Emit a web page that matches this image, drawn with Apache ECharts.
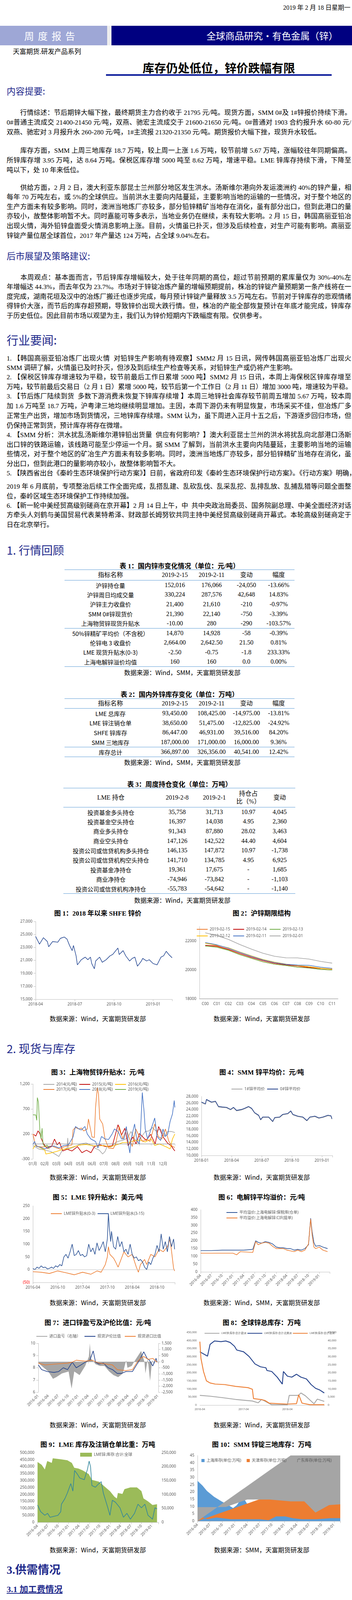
<!DOCTYPE html>
<html><head><meta charset="utf-8">
<script src="https://cdn.jsdelivr.net/npm/echarts@6/dist/echarts.min.js"></script>
<style>
html,body{margin:0;padding:0;background:#fff;}
#page{position:relative;width:900px;height:5693px;overflow:hidden;font-family:"Liberation Serif","Noto Sans CJK SC",serif;color:#000;}
.ab{position:absolute;}
.ln{position:absolute;left:17px;width:881px;height:25px;line-height:25px;font-size:17px;white-space:nowrap;overflow:hidden;}
.j{text-align:justify;text-align-last:justify;white-space:normal;}
.h1{position:absolute;left:17px;font-family:"Noto Sans CJK SC",sans-serif;color:#1f2a8c;}
.ft{position:absolute;font-weight:bold;font-size:17px;white-space:nowrap;transform:translateX(-50%);}
.src{position:absolute;font-size:16px;white-space:nowrap;transform:translateX(-50%);font-family:"Noto Sans CJK SC",sans-serif;}
table{border-collapse:collapse;font-size:16px;}
td{padding:0;text-align:center;white-space:nowrap;}
.ch{position:absolute;}
</style></head>
<body><div id="page"></div>
<script>
// ---------------- DATA ----------------
const t1Rows=[["沪锌持仓量","152,016","176,066","-24,050","-13.66%"],["沪锌周日均成交量","330,224","287,576","42,648","14.83%"],["沪锌主力收盘价","21,400","21,610","-210","-0.97%"],["SMM 0#锌现货价","21,390","22,140","-750","-3.39%"],["上海物贸锌现货升贴水","-10.00","280","-290","-103.57%"],["50%锌精矿平均价（不含税）","14,870","14,928","-58","-0.39%"],["伦锌电 3 收盘价","2,664.00","2,642.50","21.50","0.81%"],["LME 现货升贴水(0-3)","-2.50","-0.75","-1.8","233.33%"],["上海电解锌溢价均值","160","160","0.0","0.00%"]];
const t2Rows=[["LME 总库存","93,450.00","108,425.00","-14,975.00","-13.81%"],["LME 锌注销仓单","38,650.00","51,475.00","-12,825.00","-24.92%"],["SHFE 锌库存","86,447.00","46,931.00","39,516.00","84.20%"],["SMM 三地库存","187,000.00","171,000.00","16,000.00","9.36%"]];
const t2Total=["库存总计","366,897.00","326,356.00","40,541.00","12.42%"];
const t3Rows=[["投资基金多头持仓","35,758","31,713","10.97","4,045"],["投资基金空头持仓","16,397","14,038","4.95","2,360"],["商业多头持仓","91,343","87,880","28.02","3,463"],["商业空头持仓","147,126","142,522","44.40","4,604"],["投资公司或信贷机构多头持仓","146,135","147,872","10.97","-1,738"],["投资公司或信贷机构空头持仓","141,710","134,785","4.95","6,925"],["投资基金净持仓","19,361","17,675","-","1,685"],["商业净持仓","-74,946","-73,842","-","-1,103"],["投资公司或信贷机构净持仓","-55,783","-54,642","-","-1,140"]];

// fig1: months since 2018-04
const f1=[[0,24700],[0.3,23500],[0.6,24500],[0.9,23900],[1.0,23100],[1.3,23900],[1.7,23800],[1.9,24400],[2.2,24600],[2.4,24300],[2.6,23300],[2.8,22500],[2.9,23300],[3.1,21700],[3.2,20300],[3.5,21100],[3.8,21500],[4.0,21100],[4.2,21500],[4.3,20500],[4.5,19700],[4.6,20900],[4.9,21500],[5.1,20700],[5.4,21100],[5.7,21700],[5.9,21900],[6.3,22900],[6.4,21900],[6.7,22500],[6.9,21700],[7.2,20900],[7.4,21300],[7.6,21500],[7.8,20100],[8.1,20900],[8.2,21300],[8.5,20900],[8.7,21100],[9.0,20500],[9.3,20300],[9.6,21500],[9.8,21700],[10.0,22400],[10.2,21900],[10.45,21400]];
// fig2
const f2Cats=["C00","C01","C02","C03","C04","C05","C06","C07","C08","C09","C10","C11"];
const f2_0215=[21658,21613,21388,21073,20803,20560,20398,20308,20200,20146,20038,19993];
const f2_0214=[21703,21658,21433,21145,20875,20641,20461,20353,20281,20173,20101,20056];
const f2_0213=[21658,21568,21361,21055,20803,20560,20398,20308,20191,20128,20038,19993];
const f2_0212=[21847,21712,21532,21235,20974,20722,20542,20407,20299,20227,20119,20047];
const f2_0211=[21892,21739,21505,21217,20947,20695,20515,20389,20335,20317,20191,20110];
const f2_0201=[22567,22387,22117,21757,21442,21154,20947,20839,20830,20749,20587,20470];
// fig3: month position (0=Jan 1), value
const f3_2014=[[0,-30],[0.5,-100],[1,-120],[1.5,-150],[2,-220],[2.2,-250],[2.5,-120],[2.9,-80],[2.95,120],[3,-100],[3.5,-60],[4,0],[4.5,20],[5,-30],[5.3,-90],[5.6,-120],[5.9,-200],[6.1,-150],[6.3,-40],[6.6,-60],[7,30],[7.3,60],[7.6,70],[8,120],[8.3,250],[8.6,100],[8.9,30],[9.2,150],[9.5,250],[9.8,260],[10.1,330],[10.4,260],[10.8,300],[11.1,150],[11.4,250],[11.7,250],[12,230]];
const f3_2015=[[0.06,193],[0.25,158],[0.44,263],[0.59,210],[0.72,105],[0.91,0],[1.2,-88],[1.58,-52],[1.83,98],[2.06,-17],[2.25,35],[2.53,-140],[2.91,-105],[3.3,-140],[3.77,-52],[4.15,-175],[4.53,-123],[4.91,-175],[5.2,-52],[5.68,-17],[6.15,-52],[6.72,-35],[7.2,385],[7.49,175],[7.77,315],[8.06,-35],[8.44,140],[8.72,0],[9.01,210],[9.58,70],[9.96,193],[10.34,0],[10.63,350],[11.01,140],[11.39,17],[11.68,-35],[12,-140]];
const f3_2016=[[0,-100],[0.2,-30],[0.5,-60],[1,-120],[1.1,-200],[1.5,-180],[2,-150],[2.5,-110],[3,-90],[3.5,-50],[4,-20],[4.5,-10],[5,-30],[5.5,-40],[6,-30],[6.5,-60],[7,-20],[7.3,0],[7.6,30],[8,30],[8.5,60],[9,80],[9.5,40],[10,100],[10.3,-30],[10.7,0],[11,-30],[11.3,-60],[11.6,-100],[11.8,100],[12,200]];
const f3_2017=[[0,200],[0.2,0],[0.4,-50],[0.8,-60],[1.2,-50],[1.6,-40],[2,-80],[2.3,-100],[2.6,-60],[2.9,-40],[3.3,-20],[3.4,280],[3.6,330],[3.9,300],[4.1,320],[4.3,260],[4.6,300],[4.7,500],[5,140],[5.2,130],[5.3,730],[5.45,1130],[5.55,1000],[5.65,500],[5.9,400],[6.1,100],[6.4,-80],[6.8,-90],[7,0],[7.3,350],[7.6,100],[7.9,300],[8.1,150],[8.4,-50],[8.7,300],[9.0,150],[9.3,50],[9.6,100],[9.9,50],[10.3,400],[10.6,150],[10.9,100],[11.2,300],[11.5,50],[11.8,-50],[12,-70]];
const f3_2018=[[0,-10],[0.15,50],[0.3,-50],[0.6,-60],[1,-100],[1.4,-50],[1.8,-40],[2.2,-80],[2.6,-30],[3.0,-20],[3.4,140],[3.6,350],[3.9,300],[4.1,280],[4.4,350],[4.6,200],[4.9,100],[5.3,50],[5.5,-80],[5.8,150],[6.1,100],[6.4,90],[6.7,200],[6.9,300],[7.2,250],[7.5,100],[7.7,100],[7.9,350],[8.1,-50],[8.2,-180],[8.3,100],[8.6,400],[8.8,60],[9.0,0],[9.1,250],[9.25,1030],[9.4,650],[9.5,300],[9.7,100],[10.0,300],[10.3,520],[10.5,150],[10.8,70],[11.0,300],[11.2,150],[11.4,200],[11.6,450],[11.8,600],[11.95,870],[12,730]];
const f3_2019=[[0,585],[0.25,580],[0.33,473],[0.38,928],[0.47,840],[0.59,280],[0.69,105],[0.78,315],[0.86,0],[1.0,-52],[1.2,-20],[1.39,-105]];
// fig4: months since 2018-01
const f4_0=[[0,26300],[0.4,25750],[0.5,27100],[1.0,26300],[1.4,26560],[1.7,24950],[2.1,24800],[2.5,24700],[2.9,24050],[3.2,24700],[3.5,23750],[4.0,24050],[4.3,24400],[4.7,24950],[5.0,24400],[5.3,23070],[5.7,22280],[5.9,20950],[6.1,21750],[6.7,21750],[7.1,20400],[7.3,21590],[7.8,21750],[8.1,22550],[8.6,22810],[8.9,23620],[9.1,22550],[9.6,22020],[10.1,21750],[10.5,20680],[10.8,21750],[11.3,22020],[11.7,21480],[12.1,21750],[12.6,22280],[12.9,22120],[13.0,21200]];
const f4_1=[[0,26150],[0.4,25600],[0.5,26950],[1.0,26150],[1.4,26400],[1.7,24800],[2.1,24650],[2.5,24550],[2.9,23900],[3.2,24550],[3.5,23600],[4.0,23900],[4.3,24250],[4.7,24800],[5.0,24250],[5.3,22920],[5.7,22130],[5.9,20800],[6.1,21600],[6.7,21600],[7.1,20250],[7.3,21440],[7.8,21600],[8.1,22400],[8.6,22660],[8.9,23470],[9.1,22400],[9.6,21870],[10.1,21600],[10.5,20530],[10.8,21600],[11.3,21870],[11.7,21330],[12.1,21600],[12.6,22130],[12.9,21970],[13.0,21050]];
// fig5: months since 2016-04
const f5_315=[[0,5],[0.5,0],[1,10],[1.5,5],[2,15],[2.5,8],[3,10],[3.5,3],[4,5],[4.5,10],[5,5],[5.5,15],[6,10],[6.5,20],[7,15],[7.5,50],[8,60],[8.5,45],[9,70],[9.5,100],[10,55],[10.5,60],[11,75],[11.5,55],[12,60],[12.5,50],[13,55],[13.5,100],[14,70],[14.5,85],[15,60],[15.5,105],[16,75],[16.5,90],[17,110],[17.5,70],[18,120],[18.25,220],[18.5,160],[18.8,110],[19,150],[19.5,90],[20,80],[20.5,130],[21,90],[21.5,110],[22,70],[22.5,80],[23,60],[23.5,100],[24,60],[24.5,45],[25,50],[25.5,35],[26,40],[26.5,30],[27,10],[27.5,0],[28,30],[28.5,20],[29,45],[29.5,60],[30,95],[30.5,70],[31,140],[31.5,80],[32,110],[32.5,70],[33,130],[33.5,90],[34,120],[34.25,80]];
const f5_03=[[0,-8],[2,-10],[4,-15],[6,-5],[8,-12],[10,-20],[12,-10],[14,-18],[15.5,-5],[16.5,-10],[17.5,20],[18,50],[18.25,90],[18.6,60],[19.5,45],[20,30],[20.6,10],[21.3,40],[22,70],[23,50],[24,60],[25,10],[25.5,-10],[26,20],[27,40],[27.5,20],[28.5,60],[29.5,50],[30.5,80],[31.5,70],[32.5,90],[33.15,120],[33.6,60],[34,5],[34.25,-5]];
// fig6: months since 2016-04
const f6_bond=[[0,137],[3,137],[6,140],[9,140],[12,140],[14.5,145],[15.3,200],[16,190],[17,185],[18,195],[19,190],[20,180],[21,160],[22,155],[23,155],[24,150],[25,150],[26,140],[27,145],[28,140],[29,150],[30,175],[30.6,345],[31,260],[31.5,190],[32,165],[33,170],[34,160],[35.3,150]];
const f6_cif=[[0,120],[3,120],[6,120],[9,120],[10,110],[11,130],[14.5,125],[15.3,195],[16,175],[17,185],[18,190],[19,185],[20,165],[21,150],[22,150],[23,150],[24,140],[25,135],[26,130],[27,140],[28,130],[29,140],[30,180],[30.6,340],[31,240],[31.5,160],[32,150],[33,160],[34,140],[35.3,130]];
// fig7: months since 2016-01
const f7_pl=[[0,-100],[1.0,-350],[3.0,-800],[4.4,-1400],[5.4,-1270],[7.1,-960],[9.1,-800],[10,-2200],[10.8,-800],[12.4,-1100],[14.1,-350],[15.2,420],[15.5,1500],[15.8,270],[17.2,-200],[18.5,-350],[19.9,-350],[21.3,-800],[22.6,-1100],[24.0,-1270],[25.4,-960],[26.4,120],[26.8,-500],[28.1,-350],[28.8,0],[30.2,580],[30.9,880],[31.9,0],[32.2,-960],[32.9,270],[33.6,-1580],[34.2,120],[34.9,-200]];
const f7_ratio=[[0,8.23],[1,7.85],[2.7,7.69],[4.7,7.62],[6.1,7.69],[7.5,8.0],[8.8,7.85],[10.2,8.46],[11.4,8.0],[12.8,8.23],[14.1,8.46],[15.5,8.62],[16.5,9.38],[17.2,8.46],[18.2,8.31],[19.6,8.38],[21,8.0],[22.3,7.85],[23.7,7.54],[25,7.54],[26.3,7.69],[28.3,7.69],[29.7,8.31],[30.7,8.77],[31.7,9.31],[32.7,8.77],[33.4,8.62],[34.4,8.15],[35.4,8.77],[35.7,8.46]];
const f7_imp=[[0,8.38],[2.0,8.23],[5.4,8.31],[8.8,8.38],[10.2,8.46],[11.4,8.62],[14.1,8.54],[16.2,8.62],[18.2,8.38],[20.3,8.31],[22.3,8.23],[23.7,7.85],[26.3,7.77],[28.3,7.85],[29.7,8.46],[30.7,8.77],[31.7,8.92],[33.0,8.69],[34.4,8.77],[35.7,8.46]];
// fig8: months since 2016-04
const f8_na=[[0,330000],[2.1,303000],[2.8,376000],[4,397000],[5.8,393000],[7.1,397000],[8.3,388000],[9.5,364000],[10.1,341000],[12,330000],[13.5,301000],[15.1,255000],[16.6,237000],[18.1,231000],[18.4,214000],[19.7,208000],[21.2,173000],[22.6,130000],[22.9,208000],[24,179000],[25.2,173000],[26.5,191000],[27.7,173000],[29.2,162000],[30.5,127000],[31.7,104000],[32.9,93000],[34.1,75000]];
const f8_as=[[0,393000],[0.3,289000],[1,208000],[1.8,150000],[2.8,137000],[4.2,130000],[6.8,127000],[9.8,116000],[13.2,108000],[14.4,98000],[14.7,40000],[16.6,35000],[17.8,29000],[19,12000],[24,6000],[26.5,9000],[27.1,64000],[28,12000],[30.2,2000],[34.1,2000]];
const f8_eu=[[0,60000],[2.8,55000],[6.2,46000],[9.8,35000],[14.4,25000],[16,14000],[16.9,35000],[17.8,25000],[19.7,2000],[24,2000],[24.5,60000],[27,60000],[27.7,75000],[28.9,58000],[31.3,8000],[32.2,37000],[34.1,23000]];
// fig9: months since 2016-04
const f9_stock=[[0,433000],[1.2,413000],[2.1,380000],[2.8,440000],[4.1,427000],[4.4,460000],[6.7,453000],[8.6,446000],[9.9,427000],[10.6,392000],[11.8,386000],[13.1,372000],[14.8,346000],[15.7,305000],[17.7,292000],[19,265000],[20.9,224000],[22.2,184000],[22.9,171000],[23.2,211000],[24.5,204000],[25.1,238000],[26.8,251000],[28.7,251000],[30,224000],[30.6,171000],[31.9,150000],[33.2,124000],[34.5,130000]];
const f9_cw=[[0,62000],[0.9,38000],[2.1,25000],[2.9,32000],[3.6,18000],[5.9,25000],[6.7,38000],[6.9,65000],[7.9,85000],[8.6,105000],[9.6,139000],[10.2,112000],[10.7,186000],[11.5,173000],[12.2,159000],[13.5,153000],[14.4,190000],[14.9,220000],[15.3,200000],[15.7,132000],[16.7,126000],[17.7,139000],[18.4,146000],[19,105000],[20.3,52000],[20.9,25000],[21.6,79000],[22.5,72000],[23.8,52000],[24.8,18000],[25.8,32000],[26.8,11000],[28,32000],[29,65000],[30,52000],[31,65000],[31.9,25000],[33.2,11000],[33.9,52000],[34.5,48000]];
// fig10: months since 2016-04
const f10_x=[0,1.2,2.3,4.0,5.8,7.5,8.6,9.5,10.6,11.5,12.6,14.4,16.1,17.8,19.5,21.3,22.4,23.3,24.1,25.3,26.4,27.3,28.7,30.4,31.6,33.0,33.9,34.5];
const f10_sh=[27.6,24.4,20.6,16.7,13.5,10.9,9.0,10.9,15.4,14.1,9.0,6.4,6.4,5.1,6.4,7.7,12.9,16.1,12.9,7.7,12.9,7.7,6.4,7.1,4.5,3.9,6.4,7.1];
const f10_tj=[3.9,1.3,2.5,1.3,1.3,1.3,0.6,3.2,3.2,2.0,1.3,1.3,2.0,2.0,2.6,2.6,2.5,3.2,2.5,3.2,0.6,2.6,3.2,5.8,5.1,3.2,2.6,7.0];
const f10_gd=[9.6,9.6,9.7,14.8,14.8,13.5,13.5,5.8,11.0,11.5,5.1,3.9,3.8,3.2,2.6,3.2,6.5,7.2,3.9,2.6,0.0,1.9,2.6,2.5,2.0,2.5,4.5,4.5];
// fig11: months since 2016-04
const f11_dom=[[0,177],[2,174],[2.9,170],[4,164],[5.8,158],[6.7,152],[7.8,144],[8.8,136],[9.9,134],[10.9,130],[11.9,129],[13.4,129],[14.6,133],[15.5,136],[16.6,135],[17.6,132],[18.5,129],[19.5,128],[20.4,117],[21.3,117],[24,117],[27.1,117],[28,126],[28.9,132],[29.9,142],[31,161],[31.9,169],[33,181]];
const f11_imp=[[0,4190],[2,3900],[2.9,3470],[4,3120],[4.9,3140],[5.8,3080],[6.7,2870],[7.8,2440],[8.8,1830],[9.9,1270],[10.9,1030],[11.9,1030],[12.8,1190],[13.7,1360],[14.6,1440],[15.5,1720],[16.4,1640],[17.6,1270],[18.5,970],[19.5,660],[20.4,330],[21.3,330],[22.2,430],[23.1,430],[24,600],[25.2,600],[26.1,760],[27.1,970],[28,1380],[28.9,1890],[29.9,3120],[31,3840],[31.9,4560],[33,5420]];
// fig12: monthly 2016/04 - 2018/11
const f12_cats=["2016/04","2016/05","2016/06","2016/07","2016/08","2016/09","2016/10","2016/11","2016/12","2017/01","2017/02","2017/03","2017/04","2017/05","2017/06","2017/07","2017/08","2017/09","2017/10","2017/11","2017/12","2018/01","2018/02","2018/03","2018/04","2018/05","2018/06","2018/07","2018/08","2018/09","2018/10","2018/11"];
const f12_mine=[1056,1106,1125,1088,1153,1147,1209,1110,1143,1097,1045,1069,1065,1060,1143,1088,1084,1134,1218,1236,1153,1010,1010,995,1051,1069,1060,1051,1078,1116,1168,1177];
const f12_ref=[1106,1138,1147,1119,1125,1184,1194,1190,1182,1162,1088,1129,1097,1116,1143,1088,1119,1162,1223,1229,1171,1060,1110,1103,1097,1093,1054,1073,1091,1125,1143,1158];
const f12_con=[1138,1236,1209,1138,1143,1190,1182,1207,1119,1143,1047,1209,1212,1147,1194,1134,1157,1209,1264,1292,1190,1153,1032,1069,1162,1171,1116,1138,1112,1119,1182,1255];
// fig13: monthly 2016-03 - 2018-12
const f13_cats=["2016-03","2016-04","2016-05","2016-06","2016-07","2016-08","2016-09","2016-10","2016-11","2016-12","2017-01","2017-02","2017-03","2017-04","2017-05","2017-06","2017-07","2017-08","2017-09","2017-10","2017-11","2017-12","2018-01","2018-02","2018-03","2018-04","2018-05","2018-06","2018-07","2018-08","2018-09","2018-10","2018-11","2018-12"];
const f13_total=[69,74,74,75,75,74,74,78,79,78,70,69,68,67,75,74,73,76,82,80,79,80,74,72,72,69,70,66,68,73,75,74,75,77];
const f13_zno=[35,55,63,63,62,61,60,55,58,59,60,57,55,57,55,56,60,59,57,57,54,53,50,41,54,58,55,54,51,51,55,54,54,null];
const f13_die=[25,63,68,64,63,55,55,57,59,63,64,43,44,59,61,59,57,52,44,55,54,50,41,16,55,55,52,50,50,52,49,51,50,47];
const f13_galv=[43,92,96,89,85,84,84,82,84,82,70,52,68,80,66,77,86,84,85,84,82,83,68,38,34,66,86,86,82,79,83,84,82,82];
// fig14: months since 2016-04
const f14_lme=[[0,1820],[1.2,1890],[2.5,2090],[3.7,2300],[4.95,2300],[6.2,2440],[7.4,2710],[8.1,2810],[8.7,2710],[9.9,2910],[11.2,2810],[12.4,2600],[13.7,2600],[15,2710],[16.2,3120],[17.4,3220],[18.7,3120],[19.9,3320],[21.2,3530],[22.1,3530],[23.1,3220],[24.3,3120],[25.5,3120],[26.8,2600],[27.7,2560],[28.7,2500],[29.9,2650],[31.2,2600],[32.4,2560],[33,2650],[34,2710]];
const f14_dxy=[[0,94.4],[1.2,94.4],[2.5,95],[3.7,95.3],[4.95,95.3],[6.2,98.2],[6.8,99.1],[7.4,102.4],[8.1,103],[8.7,101.4],[9.9,101.4],[11.2,100.4],[12.4,99.5],[13.4,97.6],[14.3,96.9],[15.6,94.4],[16.8,92.4],[18.1,92.7],[19.3,93.1],[20.5,91.8],[21.5,89.2],[22.4,89.9],[23.7,89.9],[24.6,92.4],[25.5,94.7],[26.8,95],[28,96],[29.3,96],[30.5,96.5],[31.8,96.9],[33,96],[34,96.5]];
// fig15: monthly 2016/03 - 2018/12
const f15_cats=["2016/03","2016/04","2016/05","2016/06","2016/07","2016/08","2016/09","2016/10","2016/11","2016/12","2017/01","2017/02","2017/03","2017/04","2017/05","2017/06","2017/07","2017/08","2017/09","2017/10","2017/11","2017/12","2018/01","2018/02","2018/03","2018/04","2018/05","2018/06","2018/07","2018/08","2018/09","2018/10","2018/11","2018/12"];
const f15_us=[52.2,51.5,51.1,53,52.4,49.4,51.7,52.2,53,54.1,56.2,57.5,57.1,54.8,54.8,57.6,56.4,59,60.7,58.7,58.2,59.2,58.9,60.7,59.3,57.3,58.7,60.1,58.2,61.3,59.8,57.5,59.2,54.3];
const f15_cn=[50.3,50.3,50.2,50.2,50.1,50.1,50.3,50.8,51.1,51.4,51.5,51.3,51.4,51.3,51,51.1,51.4,51.7,52.3,51.7,51.7,51.4,51.3,51.1,50.3,51.2,51.9,51.4,51.1,51.1,50.8,50.1,50,49.4];
const f15_in=[52.4,51.1,51,51.7,51.9,52.6,52.2,54.3,52.2,49.6,50.5,50.9,52.4,52.4,51.7,51.1,47.9,51.1,51.1,50.3,52.2,54.5,52.6,52.2,51.1,51.4,51.3,53,52.6,52,52.6,53.6,54.1,53.3];

// ---------------- PAGE TEXT ----------------
const P=document.getElementById('page');
function el(html){P.insertAdjacentHTML('beforeend',html);}
function lines(ys,texts,extra){texts.forEach((t,i)=>{const last=i===texts.length-1;el(`<div class="ln${last?'':' j'}" style="top:${ys[i]-12.5}px;${extra||''}">${t}</div>`);});}
function seq(y0,n,step){const a=[];for(let i=0;i<n;i++)a.push(y0+i*step);return a;}

el(`<div class="ab" style="right:4px;top:6px;font-size:16px;">2019 年 2 月 18 日星期一</div>`);
el(`<div class="ab" style="left:0;top:66px;width:274px;height:50px;background:#9ea7d6;"></div>`);
el(`<div class="ab" style="left:274px;top:66px;width:11px;height:50px;background:#eeeeee;"></div>`);
el(`<div class="ab" style="left:285px;top:66px;width:615px;height:50px;background:#000080;"></div>`);
el(`<div class="ab" style="left:0;top:66px;width:264px;height:50px;line-height:50px;text-align:center;color:#fff;font-size:25px;letter-spacing:10px;font-family:'Noto Sans CJK SC';">周度报告</div>`);
el(`<div class="ab" style="left:528px;top:66px;height:50px;line-height:50px;color:#fff;font-size:24px;font-family:'Noto Sans CJK SC';white-space:nowrap;">全球商品研究·有色金属（锌）</div>`);
el(`<div class="ab" style="left:33px;top:118px;font-size:17px;">天富期货.研发产品系列</div>`);
el(`<div class="ab" style="left:271px;top:150px;width:577px;text-align:center;font-size:30px;font-weight:bold;font-family:'Noto Sans CJK SC';">库存仍处低位，锌价跌幅有限</div>`);
el(`<div class="ab" style="left:271px;top:190px;width:577px;height:4px;background:#0a1a9a;"></div>`);
el(`<div class="h1" style="top:215px;font-size:23px;">内容提要:</div>`);
lines([288,313,338],["　　行情综述：节后期锌大幅下挫，最终期货主力合约收于 21795 元/吨。现货方面，SMM 0#及 1#锌报价持续下滑。上海","0#普通主流成交 21400-21450 元/吨，双燕、驰宏主流成交于 21600-21650 元/吨。0#普通对 1903 合约报升水 60-80 元/吨；","双燕、驰宏对 3 月报升水 260-280 元/吨，1#主流报 21320-21350 元/吨。期货报价大幅下挫，现货升水较低。"]);
lines([385,410,435],["　　库存方面，SMM 上周三地库存 18.7 万吨，较上周一上涨 1.6 万吨，较节前增 5.67 万吨，涨幅较往年同期偏高。上期","所锌库存增 3.95 万吨，达 8.64 万吨。保税区库存增 5000 吨至 8.62 万吨，增速平稳。LME 锌库存持续下滑，下降至 10 万","吨以下，处 10 年来低位。"]);
lines(seq(480,6,24.6),["　　供给方面，2 月 2 日，澳大利亚东部昆士兰州部分地区发生洪水。汤斯维尔港向外发运澳洲约 40%的锌产量，相当于","每年 70 万吨左右，或 5%的全球供应。当前洪水主要向内陆蔓延，主要影响当地的运输的一些情况，对于整个地区的矿冶","生产方面未有较多影响。同时，澳洲当地炼厂亦较多，部分铅锌精矿当地存在消化，虽有部分出口，但到此港口的量影响","亦较小，故整体影响暂不大。同时嘉能可等多表示，当地业务仍在继续，未有较大影响。2 月 15 日，韩国高丽亚铅冶炼厂","出现火情，海外铅锌盘面受火情消息影响上涨。目前，火情虽已扑灭，但涉及后续检查，对生产可能有影响。高丽亚铅的","锌锭产量位居全球首位，2017 年产量达 124 万吨，占全球 9.04%左右。"]);
el(`<div class="h1" style="top:637px;font-size:23px;">后市展望及策略建议:</div>`);
lines(seq(710,5,24.6),["　　本周观点：基本面而言，节后锌库存增幅较大，处于往年同期的高位，超过节前预期的累库量仅为 30%-40%左右，今","年增幅达 44.3%，而去年仅为 23.7%。市场对于锌锭冶炼产量的增幅预期提前，株冶的锌锭产量预期第一条产线将在一季","度完成，湖南花垣及汉中的冶炼厂搬迁也逐步完成，每月预计锌锭产量释放 3.5 万吨左右。节前对于锌库存的悲观情绪使","得锌价大涨，而节后的库存超预期，导致锌价出现大跌行情。但，株冶的产能全部恢复预计在年底才能完成，锌库存仍处","于历史低位。因此目前市场以观望为主，我们认为锌价短期内下跌幅度有限。仅供参考。"]);
el(`<div class="h1" style="top:847px;font-size:30px;">行业要闻:</div>`);
lines([917,941],["1. 【韩国高丽亚铅冶炼厂出现火情&nbsp; 对铅锌生产影响有待观察】SMM2 月 15 日讯，网传韩国高丽亚铅冶炼厂出现火情，经","SMM 调研了解，火情虽已及时扑灭，但涉及到后续生产检查等关系，对铅锌生产或仍将产生影响。"]);
lines([965,990],["2. 【保税区锌库存增速较为平稳，较节前最后工作日累增 5000 吨】SMM2 月 15 日讯，本周上海保税区锌库存增至 8.62","万吨，较节前最后交易日（2 月 1 日）累增 5000 吨，较节后第一个工作日（2 月 11 日）增加 3000 吨，增速较为平稳。"]);
lines([1014,1039,1064,1089],["3. 【节后炼厂陆续到货&nbsp; 多数下游消费未恢复下锌库存续增 】本周三地锌社会库存较节前周五增加 5.67 万吨，较本周一增","加 1.6 万吨至 18.7 万吨，沪粤津三地均继续明显增加。主因，本周下游仍未有明显恢复，市场采买不佳，但冶炼厂多保持","正常生产出货，增加市场到货情况，三地锌库存续增。SMM 认为，虽下周进入正月十五之后，下游逐步回归市场，但炼厂","仍保持正常到货，预计库存将存在微增。"]);
lines([1113,1138,1162,1187],["4. 【SMM 分析：洪水扰乱汤斯维尔港锌铅出货量&nbsp; 供应有何影响？】澳大利亚昆士兰州的洪水将扰乱向北部港口汤斯维尔","出口锌的铁路运输，该线路可能至少停运一个月。据 SMM 了解到，当前洪水主要向内陆蔓延，主要影响当地的运输的一","些情况，对于整个地区的矿冶生产方面未有较多影响。同时，澳洲当地炼厂亦较多，部分铅锌精矿当地存在消化，虽有部","分出口，但到此港口的量影响亦较小，故整体影响暂不大。"]);
lines([1211],["5. 【陕西省出台《秦岭生态环境保护行动方案》】日前，省政府印发《秦岭生态环境保护行动方案》。《行动方案》明确，"]);
lines([1245,1270],["2019 年 6 月底前，专项整治后续工作全面完成，乱搭乱建、乱砍乱伐、乱采乱挖、乱排乱放、乱捕乱猎等问题全面整治到","位，秦岭区域生态环境保护工作持续加强。"]);
lines([1294,1318,1343],["6. 【新一轮中美经贸高级别磋商在京开幕】2 月 14 日上午，中&nbsp; 共中央政治局委员、国务院副总理、中美全面经济对话中","方牵头人刘鹤与美国贸易代表莱特希泽、财政部长姆努钦共同主持中美经贸高级别磋商开幕式。本轮高级别磋商定于 14-15","日在北京举行。"]);
el(`<div class="h1" style="top:1386px;font-size:29px;">1. 行情回顾</div>`);

// tables
function table(left,width,top,cols,head,headH,rows,rowH,opts){
  const bl='1.5px solid #5b9bd5';
  let h=`<table class="ab" style="left:${left}px;top:${top}px;width:${width}px;table-layout:fixed;">`;
  h+='<colgroup>'+cols.map(c=>`<col style="width:${c}px">`).join('')+'</colgroup>';
  h+=`<tr style="height:${headH}px;border-top:${bl};border-bottom:${bl};">`+head.map(c=>`<td style="line-height:20px;">${c}</td>`).join('')+'</tr>';
  rows.forEach((r,i)=>{const sep=(opts.sepAfter===i)?`border-bottom:${bl};`:'';const last=i===rows.length-1?`border-bottom:${bl};`:'';
    h+=`<tr style="height:${rowH}px;${sep}${last}">`+r.map((c,j)=>`<td${j===0?' style="font-family:\'Noto Sans CJK SC\';font-size:15px"':''}>${c}</td>`).join('')+'</tr>';});
  h+='</table>';el(h);
}
el(`<div class="ft" style="left:459px;top:1435px;">表 1：国内锌市变化情况（单位：元/吨）</div>`);
table(165,588,1458,[235,94,94,84,81],["指标名称","2019-2-15","2019-2-11","变动","幅度"],27,t1Rows,24.6,{sepAfter:4});
el(`<div class="src" style="left:466px;top:1709px;">数据来源：Wind，SMM，天富期货研发部</div>`);
el(`<div class="ft" style="left:459px;top:1764px;">表 2：国内外锌库存变化（单位：万吨）</div>`);
table(165,588,1788,[235,94,94,84,81],["指标名称","2019-2-15","2019-2-11","变动","幅度"],25,t2Rows.concat([t2Total]),24.8,{sepAfter:3});
el(`<div class="src" style="left:466px;top:1939px;">数据来源：Wind，SMM，天富期货研发部</div>`);
el(`<div class="ft" style="left:459px;top:1994px;">表 3：周度持仓变化（单位：万吨）</div>`);
table(162,593,2017,[243,96,94,80,80],["LME 持仓","2019-2-8","2019-2-1","持仓占<br>比（%）","变动"],49,t3Rows,24.6,{});
el(`<div class="src" style="left:466px;top:2292px;">数据来源：Wind，天富期货研发部</div>`);

// figure titles & sources
const ftitles=[[250,2335,"图 1：2018 年以来 SHFE 锌价"],[669,2335,"图 2：沪锌期限结构"],[250,2742,"图 3：上海物贸锌升贴水：元/吨"],[669,2742,"图 4：SMM 锌平均价：元/吨"],[250,3062,"图 5：LME 锌升贴水：美元/吨"],[669,3062,"图 6：电解锌平均溢价：元/吨"],[250,3383,"图 7：进口锌盈亏及沪伦比值：元/吨"],[669,3383,"图 8：全球锌总库存：万吨"],[250,3695,"图 9：LME 库存及注销仓单比重：万吨"],[669,3695,"图 10：SMM 锌锭三地库存：万吨"],[459,4102,"图 11：国内矿及进口矿加工费：元/吨、美元/吨"],[250,4472,"图 12：锌矿及精炼锌产量及消费量：千吨"],[669,4472,"图 13：下游开工率"],[250,4825,"图 14：锌价及美元指数"],[669,4825,"图 15：PMI 指数"]];
ftitles.forEach(t=>el(`<div class="ft" style="left:${t[0]}px;top:${t[1]-11}px;">${t[2]}</div>`));
const W="数据来源：Wind，天富期货研发部",WS="数据来源：Wind，SMM，天富期货研发部",S="数据来源：SMM，天富期货研发部";
const srcs=[[250,2606,W],[669,2606,W],[250,3012,W],[669,3012,W],[250,3333,W],[669,3333,WS],[250,3646,W],[669,3646,W],[250,3966,W],[669,3966,S],[459,4372,WS],[250,4739,S],[669,4739,S],[250,5097,W],[669,5097,S]];
srcs.forEach(t=>el(`<div class="src" style="left:${t[0]}px;top:${t[1]-11}px;">${t[2]}</div>`));
el(`<div class="h1" style="top:2662px;font-size:29px;">2. 现货与库存</div>`);
el(`<div class="h1" style="top:3995px;font-size:29px;font-weight:bold;font-family:'Liberation Serif','Noto Sans CJK SC';">3.供需情况</div>`);
el(`<div class="h1" style="top:4050px;font-size:22px;font-weight:bold;text-decoration:underline;font-family:'Liberation Serif','Noto Sans CJK SC';">3.1 加工费情况</div>`);
el(`<div class="h1" style="top:4421px;font-size:22px;font-weight:bold;text-decoration:underline;font-family:'Liberation Serif','Noto Sans CJK SC';">3.2 产量及开工率情况</div>`);
el(`<div class="h1" style="top:4770px;font-size:27px;font-weight:bold;font-family:'Liberation Serif','Noto Sans CJK SC';">4.宏观情况</div>`);
el(`<div class="h1" style="top:5128px;font-size:27px;">5. 后市展望</div>`);
const sans="font-family:'Noto Sans CJK SC',sans-serif;font-size:16.5px;";
lines(seq(5196,5,24.8),["本周观点：基本面而言，节后锌库存增幅较大，处于往年同期的高位，超过节前预期的累库量仅为 30%-40%左右，今年增","幅达 44.3%，而去年仅为 23.7%。市场对于锌锭冶炼产量的增幅预期提前，株冶的锌锭产量预期第一条产线将在一季度完","成，湖南花垣及汉中的冶炼厂搬迁也逐步完成，每月预计锌锭产量释放 3.5 万吨左右。节前对于锌库存的悲观情绪使得锌","价大涨，而节后的库存超预期，导致锌价出现大跌行情。但，株冶的产能全部恢复预计在年底才能完成，锌库存仍处于历","史低位。因此目前市场以观望为主，我们认为锌价短期内下跌幅度有限。仅供参考。"],sans);
el(`<div class="ab" style="left:17px;top:5330px;font-size:22px;color:#8e9bd8;font-family:'Noto Sans CJK SC';">免责声明</div>`);
const dy=seq(5381,13,24.65);
lines(dy.slice(0,2),["本报告的信息均来源于公开资料，我公司对这些信息的准确性和完整性不作任何保证，也不保证所包含的信息和建议不会","发生任何变更。文中的观点、结论和建议仅供参考。天富期货可发出其它与本报告所载资料不一致及有不同结论的报告。"],sans);
lines(dy.slice(2,4),["本报告及该等报告反映编写分析员的不同设想、见解及分析方法。报告所载资料、意见及推测仅反映分析员于发出此报告","日期当日的独立判断。"],sans);
lines(dy.slice(4,7),["客户不应视本报告为作出投资决策的惟一因素。本报告中所指的投资及服务可能不适合个别客户，不构成客户私人咨询建","议。本公司未确保本报告充分考虑到个别客户特殊的投资目标、财务状况或需要。本公司建议客户应考虑本报告的任何意","见或建议是否符合其特定状况，以及（若有必要）咨询独立投资顾问。"],sans);
lines(dy.slice(7,9),["在任何情况下，本报告中的信息或所表述的意见并不构成对任何人的投资建议。在任何情况下，本公司不对任何人因使用","本报告中的任何内容所引致的损失负任何责任。"],sans);
lines(dy.slice(9,11),["本报告的观点可能与资管团队的观点不同或对立，对于基于本报告全面或部分做出的交易、结果，不论盈利或亏损，天富","期货研究发展部不承担责任。"],sans);
lines(dy.slice(11,13),["本报告版权仅为天富期货有限公司所有，未经书面许可，任何机构和个人不得以任何形式翻版、复制和发布。如引用、刊","发，需注明出处天富期货研究发展部，且不得对本报告进行有悖原意的引用、删节和修改。"],sans);

// ---------------- CHARTS ----------------
const C={blue:'#2f5597',lblue:'#4472c4',orange:'#ed7d31',gray:'#a5a5a5',yellow:'#ffc000',green:'#70ad47',red:'#c00000'};
const FF="'Noto Sans','Noto Sans CJK SC',sans-serif";
function chart(l,t,w,h,opt){const d=document.createElement('div');d.className='ch';d.style.cssText=`left:${l}px;top:${t}px;width:${w}px;height:${h}px;`;P.appendChild(d);const c=echarts.init(d,null,{renderer:'canvas'});opt.animation=false;opt.textStyle={fontFamily:FF};c.setOption(opt);}
function ax(o){const b={axisLine:{show:true,lineStyle:{color:'#bfbfbf'}},axisTick:{show:true,lineStyle:{color:'#bfbfbf'}},axisLabel:{color:'#595959',fontSize:10,fontFamily:FF},splitLine:{show:false}};
  for(const k in o){if(b[k]&&typeof o[k]==='object'&&!Array.isArray(o[k]))b[k]=Object.assign({},b[k],o[k]);else b[k]=o[k];}return b;}
function ym(by,bm,sep){return v=>{if(Math.abs(v-Math.round(v))>1e-6)return '';const t=by*12+bm-1+Math.round(v);const y=Math.floor(t/12),m=t%12+1;return y+sep+(m<10?'0':'')+m;};}
function ln(name,data,color,extra){return Object.assign({name,type:'line',data,symbol:'none',lineStyle:{width:1.6,color},itemStyle:{color}},extra||{});}
const lg=(o)=>Object.assign({itemWidth:28,itemHeight:2,icon:'rect',textStyle:{fontSize:10,color:'#595959'}},o);

// fig1
chart(40,2345,420,240,{grid:{left:51,right:20,top:14,bottom:27},
 xAxis:ax({type:'value',min:0,max:10.45,interval:3,axisLabel:{formatter:ym(2018,4,'-')}}),
 yAxis:ax({type:'value',min:15000,max:27000,interval:2000}),
 series:[ln('SHFE',f1,'#2e4f97')]});
// fig2
chart(470,2345,420,240,{grid:{left:40,right:26,top:27,bottom:28},
 legend:[lg({top:24,left:28,data:['2019-02-15','2019-02-14','2019-02-13'],itemGap:8,textStyle:{fontSize:10,color:'#595959',width:80}}),lg({top:41,left:28,data:['2019-02-12','2019-02-11','2019-02-01'],itemGap:8,textStyle:{fontSize:10,color:'#595959',width:80}})],
 xAxis:ax({type:'category',data:f2Cats,axisLine:{lineStyle:{color:'#bfbfbf',width:2}},axisTick:{show:false}}),
 yAxis:ax({type:'value',min:18000,max:23000,interval:1000,axisTick:{show:false},axisLabel:{formatter:v=>v%2000===0?v:''}}),
 series:[ln('2019-02-15',f2_0215,C.orange),ln('2019-02-14',f2_0214,C.red),ln('2019-02-13',f2_0213,C.green),ln('2019-02-12',f2_0212,C.yellow),ln('2019-02-11',f2_0211,C.lblue),ln('2019-02-01',f2_0201,C.gray)]});
// fig3
chart(30,2760,430,230,{grid:{left:54,right:13,top:15,bottom:23},
 legend:[lg({top:6,left:76,data:['2014(元/吨)','2015(元/吨)','2016(元/吨)'],itemGap:6,textStyle:{fontSize:10,color:'#595959',width:72}}),lg({top:19,left:76,data:['2017(元/吨)','2018(元/吨)','2019(元/吨)'],itemGap:6,textStyle:{fontSize:10,color:'#595959',width:72}})],
 xAxis:ax({type:'value',min:0,max:12,interval:1,axisLabel:{formatter:v=>v<12?((v+1<10?'0':'')+(v+1)+'月'):''}}),
 yAxis:ax({type:'value',min:-300,max:1200,interval:500}),
 series:[ln('2014(元/吨)',f3_2014,C.gray,{markLine:{silent:true,symbol:'none',label:{show:false},lineStyle:{color:'#7f7f7f',type:'solid',width:1},data:[{yAxis:0}]}}),ln('2015(元/吨)',f3_2015,C.red),ln('2016(元/吨)',f3_2016,C.yellow),ln('2017(元/吨)',f3_2017,C.orange),ln('2018(元/吨)',f3_2018,C.lblue),ln('2019(元/吨)',f3_2019,C.green)]});
// fig4
chart(470,2770,420,215,{grid:{left:45,right:40,top:37,bottom:27},
 legend:lg({top:8,left:'center',itemGap:6,data:['1#锌平均价','0#锌平均价']}),
 xAxis:ax({type:'value',min:0,max:13.05,interval:3,axisLabel:{formatter:ym(2018,1,'-')}}),
 yAxis:ax({type:'value',min:10000,max:28000,interval:2000,axisTick:{show:false}}),
 series:[ln('1#锌平均价',f4_1,C.gray),ln('0#锌平均价',f4_0,'#203f8a')]});
// fig5
chart(30,3075,430,235,{grid:{left:54,right:13,top:12,bottom:27},
 legend:lg({top:22,left:95,itemGap:6,data:['LME锌升贴水(0-3)','LME锌升贴水(3-15)']}),
 xAxis:ax({type:'value',min:0,max:34.3,interval:6,axisLine:{onZero:false},axisLabel:{formatter:ym(2016,4,'-')}}),
 yAxis:ax({type:'value',min:-50,max:250,interval:50,axisTick:{show:false},axisLabel:{formatter:v=>v<0?'('+(-v)+')':v,color:v=>v<0?'#ff0000':'#595959'}}),
 series:[ln('LME锌升贴水(0-3)',f5_03,C.orange),ln('LME锌升贴水(3-15)',f5_315,'#2f5597',{markLine:{silent:true,symbol:'none',label:{show:false},lineStyle:{color:'#bfbfbf',type:'solid',width:1},data:[{yAxis:0}]}})]});
// fig6
chart(470,3085,420,225,{grid:{left:43,right:47,top:12,bottom:54},
 legend:lg({top:9,left:104,orient:'vertical',itemGap:4,data:['平均溢价:上海电解锌:保税库(仓单)','平均溢价:上海电解锌:CIF(提单)']}),
 xAxis:ax({type:'value',min:0,max:35.9,interval:3,axisLabel:{rotate:45,formatter:ym(2016,4,'-')}}),
 yAxis:ax({type:'value',min:0,max:400,interval:50,axisTick:{show:false}}),
 series:[ln('平均溢价:上海电解锌:保税库(仓单)',f6_bond,'#2f5597'),ln('平均溢价:上海电解锌:CIF(提单)',f6_cif,C.orange)]});
// fig7
chart(40,3405,420,210,{grid:{left:58,right:55,top:34,bottom:51},
 legend:lg({top:6,left:48,itemGap:10,data:['进口盈亏（右轴）','现货沪伦比值','现货进口比值']}),
 xAxis:ax({type:'value',min:0,max:36.1,interval:3,axisLabel:{rotate:45,formatter:ym(2016,1,'-')}}),
 yAxis:[ax({type:'value',min:6,max:10,interval:1}),ax({type:'value',min:-2500,max:1500,interval:500,position:'right'})],
 series:[{name:'进口盈亏（右轴）',type:'line',yAxisIndex:1,data:f7_pl,symbol:'none',lineStyle:{width:0},itemStyle:{color:'#a6a6a6'},areaStyle:{color:'#a6a6a6',opacity:1}},
  ln('现货沪伦比值',f7_ratio,'#203f8a'),ln('现货进口比值',f7_imp,C.orange)]});
// fig8
chart(470,3400,420,215,{grid:{left:41,right:60,top:11,bottom:18},
 legend:lg({top:5,left:48,itemGap:3,itemWidth:38,textStyle:{fontSize:6.5,color:'#595959'},data:['LME锌:库存:合计:欧洲','LME锌:库存:合计:北美洲','LME锌:库存:合计:亚洲']}),
 xAxis:ax({type:'value',min:0,max:34.2,interval:12,axisTick:{show:false},axisLabel:{fontSize:7,formatter:ym(2016,4,'-')}}),
 yAxis:[ax({type:'value',min:0,max:450000,interval:50000,axisLine:{show:false},axisTick:{show:false},axisLabel:{fontSize:7}}),ax({type:'value',min:0,max:45000,interval:5000,position:'right',axisLine:{show:false},axisTick:{show:false},axisLabel:{fontSize:7}})],
 series:[ln('LME锌:库存:合计:欧洲',f8_eu,C.gray,{lineStyle:{width:2.2,color:C.gray}}),ln('LME锌:库存:合计:北美洲',f8_na,'#203f8a',{lineStyle:{width:2.2,color:'#203f8a'}}),ln('LME锌:库存:合计:亚洲',f8_as,C.orange,{lineStyle:{width:2.2,color:C.orange}})]});
// fig9
chart(40,3710,420,240,{grid:{left:56,right:55,top:9,bottom:53},
 legend:lg({top:4,left:160,itemHeight:10,itemWidth:30,data:['LME锌:库存:合计:全球']}),
 xAxis:ax({type:'value',min:0,max:34.9,interval:3,axisLabel:{rotate:45,formatter:ym(2016,4,'-')}}),
 yAxis:[ax({type:'value',min:0,max:500000,interval:50000,axisLine:{show:false},axisTick:{show:false}}),ax({type:'value',min:0,max:250000,interval:50000,position:'right',axisLine:{show:false},axisTick:{show:false}})],
 series:[{name:'LME锌:库存:合计:全球',type:'line',data:f9_stock,symbol:'none',lineStyle:{width:0},itemStyle:{color:'#9bbb59'},areaStyle:{color:'#9bbb59',opacity:1}},
  ln('注销仓单',f9_cw,'#31859c',{yAxisIndex:1})]});
// fig10
const st=(arr)=>f10_x.map((x,i)=>[x,arr[i]]);
chart(470,3715,420,235,{grid:{left:35,right:20,top:11,bottom:56},
 legend:{top:14,left:40,itemWidth:8,itemHeight:8,icon:'rect',itemGap:14,textStyle:{fontSize:10,color:'#595959'},data:['上海库存(单位:万吨)','天津库存(单位:万吨)','广东库存(单位:万吨)']},
 xAxis:ax({type:'value',min:0,max:34.5,interval:3,axisLabel:{rotate:45,formatter:ym(2016,4,'-')}}),
 yAxis:ax({type:'value',min:0,max:45,interval:5,axisTick:{show:false}}),
 series:[{name:'上海库存(单位:万吨)',type:'line',stack:'a',data:st(f10_sh),symbol:'none',lineStyle:{width:0},itemStyle:{color:'#5b9bd5'},areaStyle:{color:'#5b9bd5',opacity:1}},
  {name:'天津库存(单位:万吨)',type:'line',stack:'a',data:st(f10_tj),symbol:'none',lineStyle:{width:0},itemStyle:{color:C.orange},areaStyle:{color:C.orange,opacity:1}},
  {name:'广东库存(单位:万吨)',type:'line',stack:'a',data:st(f10_gd),symbol:'none',lineStyle:{width:0},itemStyle:{color:C.gray},areaStyle:{color:C.gray,opacity:1}}]});
// fig11
chart(240,4135,420,215,{grid:{left:61,right:43,top:21,bottom:55},
 legend:lg({top:2,left:125,orient:'vertical',itemGap:4,data:['Zn50国产TC平均价（元/吨）','Zn50进口TC平均价（美元/干吨）']}),
 xAxis:ax({type:'value',min:0,max:33.5,interval:3,axisTick:{show:false},axisLine:{lineStyle:{color:'#d9d9d9'}},axisLabel:{rotate:45,formatter:ym(2016,4,'-')}}),
 yAxis:[ax({type:'value',min:0,max:200,interval:50,axisLine:{show:false},axisTick:{show:false}}),ax({type:'value',min:0,max:6000,interval:1000,position:'right',axisLine:{show:false},axisTick:{show:false}})],
 series:[ln('Zn50国产TC平均价（元/吨）',f11_dom,'#2f5597',{lineStyle:{width:2.2,color:'#2f5597'}}),ln('Zn50进口TC平均价（美元/干吨）',f11_imp,C.orange,{yAxisIndex:1,lineStyle:{width:2.2,color:C.orange}})]});
// fig12
chart(30,4495,430,230,{grid:{left:62,right:25,top:13,bottom:62},
 legend:lg({top:5,left:142,orient:'vertical',itemGap:3,data:['ILZSG:全球锌矿产量:当月值','ILZSG:全球精炼锌产量:当月值','ILZSG:全球精炼锌消费量:当月值']}),
 xAxis:ax({type:'category',data:f12_cats,boundaryGap:false,axisLabel:{rotate:45,interval:2},axisTick:{interval:2}}),
 yAxis:ax({type:'value',min:800,max:1400,interval:100}),
 series:[ln('ILZSG:全球锌矿产量:当月值',f12_mine,'#2f5597',{lineStyle:{width:2,color:'#2f5597'}}),ln('ILZSG:全球精炼锌产量:当月值',f12_ref,C.orange,{lineStyle:{width:2,color:C.orange}}),ln('ILZSG:全球精炼锌消费量:当月值',f12_con,C.gray,{lineStyle:{width:2,color:C.gray}})]});
// fig13
chart(470,4490,420,235,{grid:{left:55,right:66,top:11,bottom:65},
 legend:[lg({top:7,left:43,itemGap:8,data:['总开工率(单位:%)','氧化锌开工率(单位:%)'],textStyle:{fontSize:10,color:'#595959',width:140}}),lg({top:21,left:43,itemGap:8,data:['压铸锌合金开工率(单位:%)','镀锌开工率(单位:%)'],textStyle:{fontSize:10,color:'#595959',width:140}})],
 xAxis:ax({type:'category',data:f13_cats,boundaryGap:false,axisLabel:{rotate:45,interval:2},axisTick:{interval:2}}),
 yAxis:ax({type:'value',min:0,max:120,interval:20,axisLine:{show:false},axisTick:{show:false}}),
 series:[ln('总开工率(单位:%)',f13_total,'#2f5597',{lineStyle:{width:2,color:'#2f5597'}}),ln('氧化锌开工率(单位:%)',f13_zno,C.orange,{lineStyle:{width:2,color:C.orange}}),ln('压铸锌合金开工率(单位:%)',f13_die,C.gray,{lineStyle:{width:2,color:C.gray}}),ln('镀锌开工率(单位:%)',f13_galv,C.yellow,{lineStyle:{width:2,color:C.yellow}})]});
// fig14
chart(40,4855,420,215,{grid:{left:58,right:46,top:36,bottom:55},
 legend:lg({top:7,left:'center',itemGap:3,textStyle:{fontSize:9,color:'#595959'},data:['现货收盘价(场内盘):LME锌','美元指数']}),
 xAxis:ax({type:'value',min:0,max:34.3,interval:3,axisLabel:{rotate:45,fontSize:9,formatter:ym(2016,4,'-')}}),
 yAxis:[ax({type:'value',min:0,max:4000,interval:500,axisLabel:{fontSize:9}}),ax({type:'value',min:80,max:105,interval:5,position:'right',axisLabel:{fontSize:9}})],
 series:[ln('现货收盘价(场内盘):LME锌',f14_lme,'#2f5597'),ln('美元指数',f14_dxy,C.orange,{yAxisIndex:1})]});
// fig15
chart(470,4855,420,220,{grid:{left:45,right:49,top:17,bottom:63},
 legend:lg({top:4,left:84,orient:'vertical',itemGap:1,textStyle:{fontSize:9,color:'#595959'},data:['美国:供应管理协会(ISM):制造业PMI','PMI','印度:制造业PMI']}),
 xAxis:ax({type:'category',data:f15_cats,boundaryGap:false,axisLabel:{rotate:45,interval:2},axisTick:{interval:2}}),
 yAxis:ax({type:'value',min:40,max:65,interval:5,axisLine:{show:false},axisTick:{show:false}}),
 series:[ln('美国:供应管理协会(ISM):制造业PMI',f15_us,'#2f5597',{lineStyle:{width:2,color:'#2f5597'}}),ln('PMI',f15_cn,C.orange,{lineStyle:{width:2,color:C.orange}}),ln('印度:制造业PMI',f15_in,C.gray,{lineStyle:{width:2,color:C.gray}})]});
</script></body></html>
